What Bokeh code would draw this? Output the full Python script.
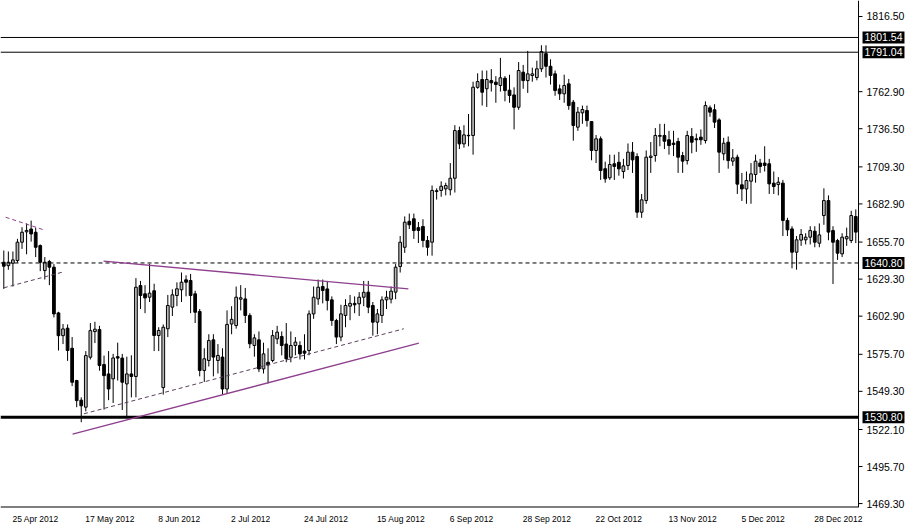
from bokeh.plotting import figure
from bokeh.models import FixedTicker, Span, Label, ColumnDataSource, PrintfTickFormatter
from bokeh.embed import file_html
from bokeh.resources import INLINE

# ---- data (daily gold candles, bar index 0 = 23 Apr 2012) ----
opens = [1641.3,1638.9,1640.6,1642.5,1655.6,1663,1665,1662.7,1653.2,1635.4,1641.8,1637.8,1605.2,1589,1594.3,1580,1557,1543,1538,1573.6,
         1591.9,1593.4,1568.4,1561.7,1558.2,1574,1573,1554.6,1561.7,1559.9,1624.7,1618.8,1616.4,1621,1589.1,1552,1593.9,1609.3,1617.6,1621.7,
         1628.8,1628.3,1618.8,1606.2,1564.2,1571.3,1586,1571.3,1573.7,1551,1597.3,1596.2,1615,1615.2,1603.4,1582,1586,1565.3,1570,1571.3,
         1586.7,1588.4,1583,1573.6,1582,1582,1578,1578.4,1604.5,1615.2,1624,1622.3,1614.5,1599.8,1588,1603.4,1610,1612,1611.7,1616.4,
         1620,1610.5,1598.6,1603.4,1614.5,1615,1620,1638.3,1652,1670.5,1672.3,1666,1666.8,1656.8,1655.6,1691.7,1692.5,1693.6,1693,1701.2,
         1735.2,1725.7,1731.8,1731.7,1766,1771.6,1765,1770.8,1769.7,1767.3,1772.5,1764,1760.6,1751.8,1776.8,1770.8,1774.4,1773,1779.2,1790,
         1781,1775.6,1764.9,1761.4,1768.5,1755.4,1737.6,1747.8,1749.5,1741.6,1721,1729.3,1708,1701.5,1711.5,1712.6,1706,1710.3,1719.8,1716.7,
         1677,1685.3,1716,1717.4,1731.1,1731.7,1728.6,1726.2,1727.4,1717.4,1713.8,1731,1729.3,1730.5,1728.1,1751.4,1750,1742.8,1718.6,1726.9,
         1713.4,1716.2,1696.5,1693.6,1699.1,1703.9,1712,1712,1711.5,1697.7,1696.7,1697.7,1671.1,1665.1,1648.5,1657.1,1657.3,1659.2,1663.5,1654.9,
         1674.6,1685.3,1663.9,1656.8,1647.3,1658,1656.8,1673.9]
highs = [1649.7,1649,1649,1658,1666.3,1669,1671,1666,1654,1645,1643,1640,1606,1597.3,1597,1588,1557.5,1545,1578,1598,
         1598.9,1596,1574.8,1578,1576,1584,1576,1574,1575,1630,1628,1625,1640.2,1626,1595,1597,1618,1622,1627,1634,
         1632,1633,1621,1608,1580,1590,1590,1583,1580,1607,1610,1624,1625,1623,1605,1590,1592,1584,1580,1593,
         1596,1592,1598,1592,1588,1585,1590,1607,1624,1629,1629,1628,1617,1601,1611,1615,1618,1617,1620,1628,
         1628,1613,1608,1617,1621,1624,1640,1660,1674,1676,1676,1670,1672,1660,1696,1694,1699,1698,1712,1739,
         1738,1739,1747,1770,1776,1778,1778,1779,1774,1787,1774,1775,1766,1784,1782,1792,1780,1785,1796,1796,
         1786,1778,1768,1775,1772,1757,1752,1753,1753,1742,1732,1731,1713,1718,1718,1720,1715,1726,1727,1719,
         1690,1721,1727,1737,1740,1740,1735,1735,1730,1720,1735,1737,1733,1736,1756,1753,1754,1744,1730,1731,
         1722,1718,1705,1706,1712,1718,1715,1724,1715,1706,1702,1700,1673,1667,1660,1665,1662,1667,1667,1669,
         1694,1689,1667,1658,1662,1666,1678,1679]
lows = [1622.3,1636,1624,1641,1650.8,1647,1656,1645,1635,1629,1625,1602,1578.4,1583,1571,1553,1538,1527.3,1535,1572,
        1583.7,1564,1536.3,1543,1541,1557,1536,1530.8,1545,1545,1608,1605,1613,1578,1578,1547,1588,1603,1610,1613,
        1617,1605,1598,1560,1556,1567,1560,1562,1547,1548,1590,1594,1607,1598,1580,1574,1563,1562,1555,1570,
        1583,1575,1570,1570,1575,1572,1572,1575,1601,1611,1612,1607,1596,1583,1585,1595,1600,1605,1603,1610,
        1605,1589,1590,1598,1608,1612,1615,1634,1648,1665,1658,1655,1652,1646,1646,1686,1688,1689,1689,1691,
        1722,1723,1724,1718,1765,1753,1752,1763,1755,1763,1756,1755,1736,1750,1765,1762,1770,1771,1777,1773,
        1768,1760,1757,1755,1750,1728,1735,1740,1738,1714,1712,1700,1698,1700,1700,1703,1701,1707,1705,1673,
        1673,1683,1705,1713,1724,1722,1718,1717,1705,1705,1711,1719,1720,1725,1726,1745,1737,1705,1714,1708,
        1710,1690,1685,1683,1683,1698,1705,1706,1690,1690,1689,1660,1660,1637,1636,1653,1654,1654,1652,1652,
        1668,1657,1625.8,1643,1645,1653,1655,1655]
closes = [1638.5,1641.3,1643,1655.6,1662.7,1664,1661.5,1652,1641.3,1641.3,1637.8,1604.5,1589,1593.8,1578.4,1555.8,1542.7,1539,1574.8,1592.6,
          1593.6,1567.7,1560.5,1551,1573.1,1573,1555.8,1561.7,1559.9,1623.5,1617.6,1615.9,1619.3,1589.1,1592.7,1595,1610.5,1618.1,1622.4,1627.1,
          1627.1,1617.6,1605.7,1564.2,1572.5,1585.5,1573.7,1574.9,1551,1597,1600.6,1616.4,1616,1603.4,1583.2,1587.4,1565.3,1576,1568,1589,
          1591.5,1582,1572.5,1582,1584.4,1576,1576.5,1604.5,1616.4,1623.5,1621.2,1614,1599.8,1588,1604.5,1610.5,1612,1611,1616.4,1619.9,
          1609.3,1598.6,1604.5,1614.5,1616.4,1620.7,1637.8,1655.6,1669.9,1668,1663.9,1664,1656.8,1652,1692.5,1692.3,1695.5,1696,1701.2,1735.2,
          1725.7,1732.1,1731.5,1766.1,1770.1,1762.5,1771.6,1769.2,1768,1772.8,1763.7,1760.2,1751.8,1778,1770.8,1775.6,1775.6,1779.2,1791.5,1781,
          1774.5,1763.7,1761.4,1767.3,1753,1738.8,1748.3,1750.2,1742.3,1721,1729.3,1706.7,1700.8,1711,1709.6,1707.9,1710,1719.8,1714.3,1677,
          1685.8,1716.2,1717,1731.7,1731.7,1727.6,1724.5,1725.2,1716.2,1713.4,1731.7,1726.9,1728.6,1728.6,1753,1748.3,1741.2,1719.8,1726.2,1713.8,
          1715.7,1697,1693.6,1699.6,1704.3,1713.4,1709.6,1710.3,1697.2,1695.3,1698.4,1671.1,1664.4,1648.5,1657.3,1661.1,1659.2,1663.9,1655.6,1660.8,
          1685.3,1662.8,1655.6,1647.8,1659.2,1659.6,1674.6,1662.8]

# date axis labels, one every 16 bars
tick_bars = [2, 18, 34, 50, 66, 82, 98, 114, 130, 146, 162, 178]
tick_labels = ["25 Apr 2012", "17 May 2012", "8 Jun 2012", "2 Jul 2012", "24 Jul 2012", "15 Aug 2012",
               "6 Sep 2012", "28 Sep 2012", "22 Oct 2012", "13 Nov 2012", "5 Dec 2012", "28 Dec 2012"]
price_ticks = [1816.50, 1762.90, 1736.50, 1709.30, 1682.90, 1655.70, 1629.30, 1602.90, 1575.70, 1549.30, 1522.10, 1495.70, 1469.30]

# horizontal levels
resistance_levels = [1801.54, 1791.04]
pivot_level = 1640.80
support_level = 1530.80

# trend lines (bar index, price)
tri_x0 = [21.9, 15.1]; tri_y0 = [1642.1, 1518.8]
tri_x1 = [88.8, 91.1]; tri_y1 = [1622.4, 1583.6]
dashp_x0 = [0.4]; dashp_y0 = [1673.4]
dashp_x1 = [8.8]; dashp_y1 = [1664.4]
dashd_x0 = [17.6, 0.0]; dashd_y0 = [1533.3, 1623.1]
dashd_x1 = [87.8, 12.8]; dashd_y1 = [1593.9, 1634.2]

# ---- layout constants ----
W, H = 912, 526
X0, X1 = -0.724, 198.57     # frame spans the price-label strip too
AXIS_X = 187.6              # where the price scale line sits
Y0, Y1 = 1466.5, 1827.9
PX_PER_BAR = 4.556
FONT = "Liberation Sans"
DATE_FS = 8.5
PRICE_FS = 10.5

# Arial/Liberation advance widths (per 1000 em) to left-align date labels at their bar
ADV = {" ": 278, "A": 667, "p": 556, "r": 333, "M": 833, "a": 556, "y": 500, "J": 500,
       "u": 556, "n": 556, "l": 222, "g": 556, "S": 667, "e": 556, "O": 778, "c": 500,
       "t": 278, "N": 722, "o": 556, "v": 500, "D": 722}
def text_w(s, fs):
    return sum(ADV.get(ch, 556) for ch in s) * fs / 1000.0

n = len(opens)
xs = list(range(n))
up = [c >= o for o, c in zip(opens, closes)]
src_up = ColumnDataSource(dict(x=[x for x, u in zip(xs, up) if u],
                               top=[c for c, u in zip(closes, up) if u],
                               bottom=[o for o, u in zip(opens, up) if u]))
src_dn = ColumnDataSource(dict(x=[x for x, u in zip(xs, up) if not u],
                               top=[o for o, u in zip(opens, up) if not u],
                               bottom=[c for c, u in zip(closes, up) if not u]))

p = figure(width=W, height=H, output_backend="svg", toolbar_location=None,
           x_range=(X0, X1), y_range=(Y0, Y1), y_axis_location="right",
           min_border_left=0, min_border_top=0, min_border_right=4, min_border_bottom=19)
p.outline_line_color = None
p.grid.visible = False
p.background_fill_color = "white"

# wicks and bodies
p.segment(x0=xs, y0=lows, x1=xs, y1=highs, line_color="black", line_width=1)
p.vbar(x="x", top="top", bottom="bottom", width=0.6, source=src_up,
       fill_color="#b8b8b8", line_color="black", line_width=1)
p.vbar(x="x", top="top", bottom="bottom", width=0.6, source=src_dn,
       fill_color="black", line_color="black", line_width=1)

# horizontal levels (end at the price scale)
lv_all = resistance_levels
p.segment(x0=[X0] * len(lv_all), x1=[AXIS_X] * len(lv_all), y0=lv_all, y1=lv_all,
          line_color="black", line_width=1)
p.segment(x0=[X0], x1=[AXIS_X], y0=[pivot_level], y1=[pivot_level],
          line_color="black", line_width=1, line_dash="4 3")
p.segment(x0=[X0], x1=[AXIS_X], y0=[support_level], y1=[support_level],
          line_color="black", line_width=3)

# trend lines
p.segment(x0=tri_x0, y0=tri_y0, x1=tri_x1, y1=tri_y1, line_color="#8e3f8e", line_width=1.3)
p.segment(x0=dashp_x0, y0=dashp_y0, x1=dashp_x1, y1=dashp_y1, line_color="#8e3f8e",
          line_width=1, line_dash="4 3")
p.segment(x0=dashd_x0, y0=dashd_y0, x1=dashd_x1, y1=dashd_y1, line_color="#5a405a",
          line_width=1, line_dash="4 3")

# price scale line, its tick marks, and the bottom border
p.add_layout(Span(location=AXIS_X, dimension="height", line_color="black", line_width=1))
p.segment(x0=[AXIS_X] * len(price_ticks), x1=[AXIS_X + 4 / PX_PER_BAR] * len(price_ticks),
          y0=price_ticks, y1=price_ticks, line_color="black", line_width=1)
p.segment(x0=[X0], x1=[AXIS_X], y0=[Y0], y1=[Y0], line_color="black", line_width=2)

# date axis: labels start at their bar
xa = p.xaxis[0]
label_pos = [b + (text_w(t, DATE_FS) / 2 - 0.5) / PX_PER_BAR for b, t in zip(tick_bars, tick_labels)]
xa.ticker = FixedTicker(ticks=label_pos)
xa.major_label_overrides = {pos: t for pos, t in zip(label_pos, tick_labels)}
xa.major_label_text_font = FONT
xa.major_label_text_font_size = "%gpx" % DATE_FS
xa.major_label_text_color = "black"
xa.major_label_standoff = 6
xa.major_tick_in = 0
xa.major_tick_out = 0
xa.major_tick_line_color = None
xa.minor_tick_line_color = None
xa.axis_line_color = None
xa.axis_label_standoff = 0
xa.axis_label_text_font_size = "0px"

# price axis: labels drawn back into the label strip
ya = p.yaxis[0]
ya.ticker = FixedTicker(ticks=price_ticks)
ya.formatter = PrintfTickFormatter(format="%.2f")
ya.major_label_text_font = FONT
ya.major_label_text_font_size = "%gpx" % PRICE_FS
ya.major_label_text_color = "black"
ya.major_label_standoff = -42
ya.major_tick_in = 0
ya.major_tick_out = 0
ya.major_tick_line_color = None
ya.minor_tick_line_color = None
ya.axis_line_color = None
ya.axis_label_standoff = 0
ya.axis_label_text_font_size = "0px"

for lv in resistance_levels + [pivot_level, support_level]:
    p.add_layout(Label(x=AXIS_X, y=lv, x_offset=4, text="%.2f" % lv, text_color="white",
                       text_font=FONT, text_font_size="%gpx" % PRICE_FS, text_baseline="middle",
                       background_fill_color="black", padding=2))

open("out.html", "w").write(file_html(p, INLINE))
